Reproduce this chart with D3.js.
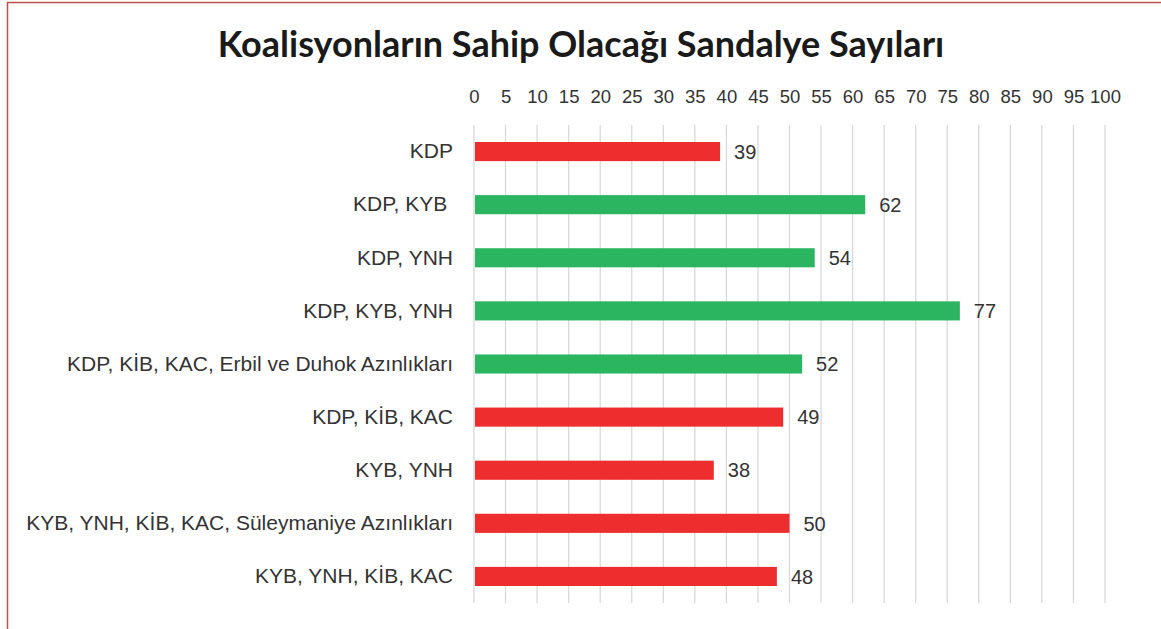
<!DOCTYPE html>
<html>
<head>
<meta charset="utf-8">
<script src="https://cdn.jsdelivr.net/npm/d3@7"></script>
<style>
  body { margin: 0; background: #fff; }
  svg { display: block; font-family: "Liberation Sans", Arial, sans-serif; }
</style>
</head>
<body>
<div id="chart"></div>
<script>
// data
var coalitions = [
  "KDP",
  "KDP, KYB ",
  "KDP, YNH",
  "KDP, KYB, YNH",
  "KDP, KİB, KAC, Erbil ve Duhok Azınlıkları",
  "KDP, KİB, KAC",
  "KYB, YNH",
  "KYB, YNH, KİB, KAC, Süleymaniye Azınlıkları",
  "KYB, YNH, KİB, KAC"
];
var seats = [39, 62, 54, 77, 52, 49, 38, 50, 48];
var majority = [false, true, true, true, true, false, false, false, false];
var tickValues = d3.range(0, 101, 5);

var svgWidth = 1161;
var svgHeight = 629;

var svg = d3.select("#chart")
  .append("svg")
  .attr("width", svgWidth)
  .attr("height", svgHeight);

// border
svg.append("rect")
  .attr("x", 7.5)
  .attr("y", 2.5)
  .attr("width", 1160)
  .attr("height", 640)
  .attr("fill", "none")
  .attr("stroke", "#c0504d")
  .attr("stroke-width", 1.5);

// title
svg.append("text")
  .attr("x", 581)
  .attr("y", 57)
  .attr("text-anchor", "middle")
  .style("font-family", "Lato, 'Open Sans', sans-serif")
  .style("font-weight", "bold")
  .style("font-size", "36px")
  .attr("fill", "#1a1a1a")
  .text("Koalisyonların Sahip Olacağı Sandalye Sayıları");

var xScale = d3.scaleLinear()
  .domain([0, 100])
  .range([474, 1105]);

var yScale = d3.scaleBand()
  .domain(coalitions)
  .range([125, 603])
  .paddingInner(0.64)
  .paddingOuter(0.32);

// gridlines
svg.append("g")
  .selectAll("line")
  .data(tickValues)
  .enter()
  .append("line")
  .attr("x1", d => xScale(d))
  .attr("x2", d => xScale(d))
  .attr("y1", 125)
  .attr("y2", 603)
  .attr("stroke", "#d9d9d9")
  .attr("stroke-width", 1.3);

// top axis
var topAxis = d3.axisTop(xScale).tickValues(tickValues).tickSize(0).tickPadding(0);
var axisG = svg.append("g")
  .attr("transform", "translate(0, 103)")
  .call(topAxis);
axisG.select(".domain").remove();
axisG.selectAll("text")
  .style("font-size", "18.5px")
  .style("font-family", "'Liberation Sans', Arial, sans-serif")
  .attr("fill", "#333");

// bars
svg.selectAll(".bar")
  .data(coalitions)
  .enter()
  .append("rect")
  .attr("class", "bar")
  .attr("x", xScale(0) + 1)
  .attr("y", d => yScale(d))
  .attr("width", (d, i) => xScale(seats[i]) - xScale(0) - 1)
  .attr("height", yScale.bandwidth())
  .attr("fill", (d, i) => majority[i] ? "#2bb561" : "#ee2e2e");

// value labels
svg.selectAll(".val")
  .data(coalitions)
  .enter()
  .append("text")
  .attr("x", (d, i) => xScale(seats[i]) + 14)
  .attr("y", d => yScale(d) + yScale.bandwidth() / 2)
  .attr("dy", "0.36em")
  .style("font-size", "20px")
  .attr("fill", "#333")
  .text((d, i) => seats[i]);

// category labels
var leftAxis = d3.axisLeft(yScale).tickSize(0).tickPadding(21);
var yG = svg.append("g")
  .attr("transform", `translate(${xScale(0)}, 0)`)
  .call(leftAxis);
yG.select(".domain").remove();
yG.selectAll("text")
  .style("font-size", "21px")
  .style("white-space", "pre")
  .style("font-family", "'Liberation Sans', Arial, sans-serif")
  .attr("fill", "#333");
</script>
</body>
</html>
